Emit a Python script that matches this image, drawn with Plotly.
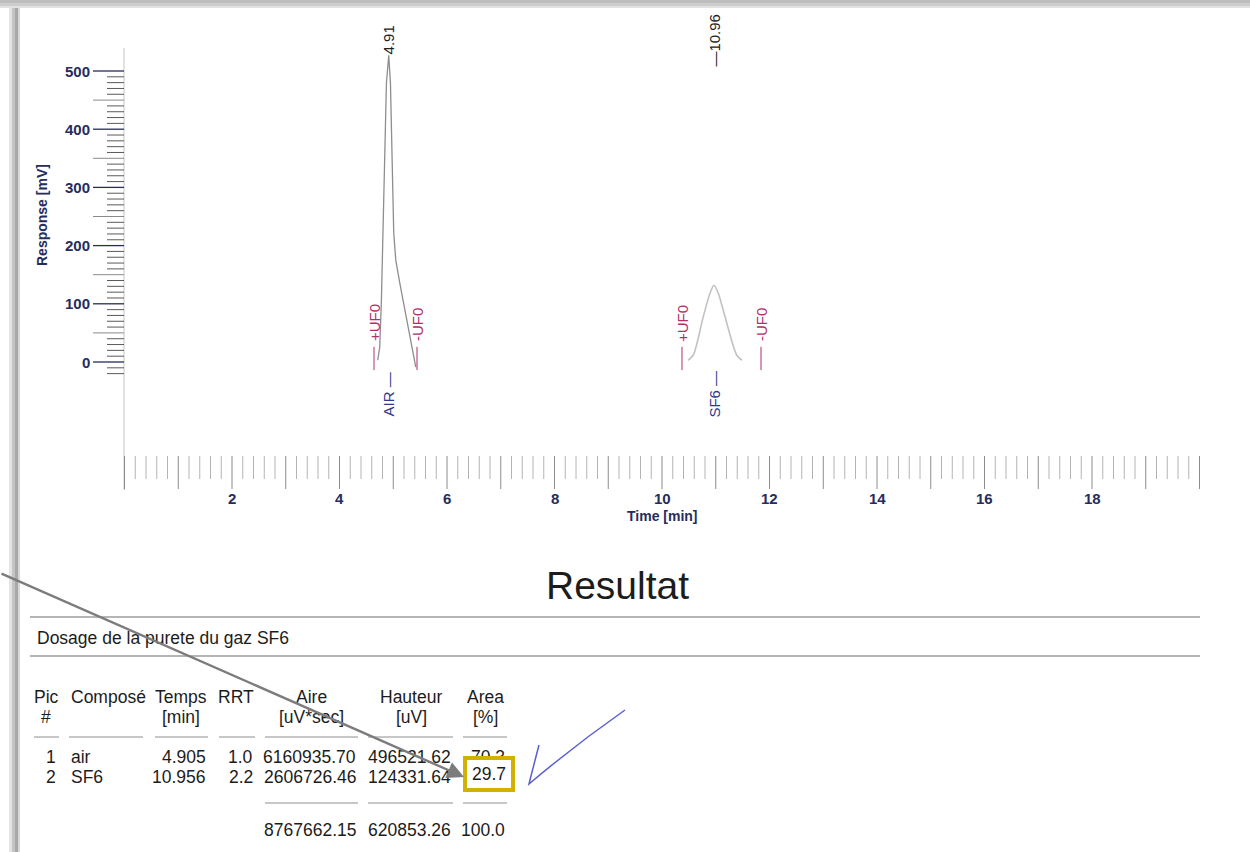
import plotly.graph_objects as go

# ---------------- data ----------------
# chromatogram trace around the two peaks (time in min, response in mV)
air_time = [4.711, 4.749, 4.780, 4.799, 4.804, 4.873, 4.916, 4.948, 5.009, 5.047, 5.121, 5.246, 5.339, 5.419]
air_resp = [3, 26, 107, 175, 222, 479, 527, 479, 222, 175, 136, 77, 33, -9]
sf6_time = [10.484, 10.582, 10.768, 10.893, 10.967, 11.047, 11.172, 11.390, 11.488]
sf6_resp = [3, 12, 78, 118, 132, 118, 78, 12, 3]

peak_names = ["AIR", "SF6"]
peak_rt = [4.91, 10.96]
peak_rt_labels = ["4.91", "\u201410.96"]
uf0_start = [4.642, 10.372]
uf0_end = [5.442, 11.842]

y_tick_labels = [0, 100, 200, 300, 400, 500]
y_minor_ticks = list(range(-20, 501, 10))
x_tick_labels = [2, 4, 6, 8, 10, 12, 14, 16, 18]
x_major_ticks = list(range(0, 21))
x_minor_ticks = [i / 5 for i in range(0, 101) if i % 5 != 0]

# result table
pic = [1, 2]
compose = ["air", "SF6"]
temps = [4.905, 10.956]
rrt = [1.0, 2.2]
aire = [6160935.70, 2606726.46]
hauteur = [496521.62, 124331.64]
area_pct = [70.3, 29.7]
aire_total = 8767662.15
hauteur_total = 620853.26
area_total = 100.0

# ---------------- page geometry ----------------
W, H = 1250, 852
X0_PX, PX_PER_MIN = 124.5, 53.75
Y0_PX, PX_PER_MV = 362.0, 0.582


def t_of(px):
    return (px - X0_PX) / PX_PER_MIN


def r_of(py):
    return (Y0_PX - py) / PX_PER_MV


def pxp(x):
    return x / W


def pyp(y):
    return 1 - y / H


FONT = "Liberation Sans, Arial, sans-serif"
NAVY = "#262c5c"
NAVY2 = "#2e3a8a"
UFC = "#b0306a"
TS = 17.5

fig = go.Figure()


def seg_trace(xs_pairs, ys_pairs, color, width):
    xs, ys = [], []
    for (xa, xb), (ya, yb) in zip(xs_pairs, ys_pairs):
        xs += [xa, xb, None]
        ys += [ya, yb, None]
    fig.add_trace(go.Scatter(x=xs, y=ys, mode="lines", line=dict(color=color, width=width),
                             hoverinfo="skip", showlegend=False))


# y axis line
seg_trace([(t_of(124), t_of(124))], [(r_of(48), r_of(490))], "#c4c4c4", 1)
# y ticks
minor = [v for v in y_minor_ticks if v % 50 != 0]
mid = [v for v in y_minor_ticks if v % 50 == 0 and v % 100 != 0]
seg_trace([(t_of(107), t_of(124))] * len(minor), [(v, v) for v in minor], "#5a5a5a", 1)
seg_trace([(t_of(93), t_of(124))] * len(mid), [(v, v) for v in mid], "#8a8a8a", 1)
seg_trace([(t_of(93), t_of(124))] * len(y_tick_labels), [(v, v) for v in y_tick_labels], NAVY, 1.3)
# x ticks
seg_trace([(v, v) for v in x_minor_ticks], [(r_of(456), r_of(479))] * len(x_minor_ticks), "#b4b4b4", 1)
seg_trace([(v, v) for v in x_major_ticks], [(r_of(456), r_of(489))] * len(x_major_ticks), "#8c8c8c", 1)

# chromatogram
fig.add_trace(go.Scatter(x=air_time, y=air_resp, mode="lines",
                         line=dict(color="#8e8e8e", width=1.3), hoverinfo="skip", showlegend=False))
fig.add_trace(go.Scatter(x=sf6_time, y=sf6_resp, mode="lines",
                         line=dict(color="#c2c2c2", width=1.6, shape="spline", smoothing=0.8),
                         hoverinfo="skip", showlegend=False))
# integration markers
seg_trace([(t, t) for t in uf0_start + uf0_end], [(-14, 26)] * 4, UFC, 1)

ann = []
# axis labels
for v in y_tick_labels:
    ann.append(dict(x=t_of(92), y=v, xref="x", yref="y", text=f"<b>{v}</b>", showarrow=False,
                    xanchor="right", yanchor="middle", font=dict(family=FONT, size=15, color=NAVY)))
for v in x_tick_labels:
    ann.append(dict(x=v, y=r_of(498), xref="x", yref="y", text=f"<b>{v}</b>", showarrow=False,
                    xanchor="center", yanchor="middle", font=dict(family=FONT, size=15, color=NAVY)))
ann.append(dict(x=t_of(42), y=r_of(215), xref="x", yref="y", text="<b>Response [mV]</b>", showarrow=False,
                textangle=-90, font=dict(family=FONT, size=14, color=NAVY)))
ann.append(dict(x=t_of(662), y=r_of(516), xref="x", yref="y", text="<b>Time [min]</b>", showarrow=False,
                font=dict(family=FONT, size=14, color=NAVY)))
# peak annotations
for name, rt, lab, ts, te in zip(peak_names, peak_rt, peak_rt_labels, uf0_start, uf0_end):
    ann.append(dict(x=rt, y=r_of(40), xref="x", yref="y", text=lab, showarrow=False, textangle=-90,
                    font=dict(family=FONT, size=15, color="#222222")))
    ann.append(dict(x=rt, y=r_of(394), xref="x", yref="y", text=name + " \u2014", showarrow=False,
                    textangle=-90, font=dict(family=FONT, size=15, color=NAVY2)))
    ann.append(dict(x=ts, y=r_of(323), xref="x", yref="y", text="+UF0", showarrow=False, textangle=-90,
                    font=dict(family=FONT, size=15, color=UFC)))
    ann.append(dict(x=te, y=r_of(325), xref="x", yref="y", text="-UF0", showarrow=False, textangle=-90,
                    font=dict(family=FONT, size=15, color=UFC)))


def ptxt(text, x, y, anchor, size=TS, color="#1c1c1c"):
    ann.append(dict(x=pxp(x), y=pyp(y), xref="paper", yref="paper", text=text, showarrow=False,
                    xanchor=anchor, yanchor="middle", font=dict(family=FONT, size=size, color=color)))


ptxt("Resultat", 617, 585, "center", size=39)
ptxt("Dosage de la purete du gaz SF6", 35, 638, "left")

# table header
headers = [("Pic", "#", 46.5), ("Composé", "", 69), ("Temps", "[min]", 181), ("RRT", "", 236),
           ("Aire", "[uV*sec]", 311), ("Hauteur", "[uV]", 411), ("Area", "[%]", 485)]
for h1, h2, cx in headers:
    anc = "left" if h1 == "Composé" else "center"
    ptxt(h1, cx, 697, anc)
    if h2:
        ptxt(h2, cx, 717, anc)

row_y = [757, 777]
for i in range(len(pic)):
    y = row_y[i]
    ptxt(str(pic[i]), 58, y, "right")
    ptxt(compose[i], 69, y, "left")
    ptxt(f"{temps[i]:.3f}", 208, y, "right")
    ptxt(f"{rrt[i]:.1f}", 255, y, "right")
    ptxt(f"{aire[i]:.2f}", 358, y, "right")
    ptxt(f"{hauteur[i]:.2f}", 453, y, "right")
    if i == 0:
        ptxt(f"{area_pct[i]:.1f}", 507, y, "right")
ptxt(f"{aire_total:.2f}", 358, 830, "right")
ptxt(f"{hauteur_total:.2f}", 453, 830, "right")
ptxt(f"{area_total:.1f}", 507, 830, "right")

# highlighted value with yellow frame
ann.append(dict(x=pxp(488.5), y=pyp(774), xref="paper", yref="paper", text=f"{area_pct[1]:.1f}",
                showarrow=False, xanchor="center", yanchor="middle", width=42, height=26,
                bgcolor="white", bordercolor="#d2b200", borderwidth=4, borderpad=1,
                font=dict(family=FONT, size=TS, color="#1c1c1c")))
# pointer arrow
ann.append(dict(x=pxp(464), y=pyp(777), xref="paper", yref="paper", text="", showarrow=True,
                ax=-480, ay=-204, axref="pixel", ayref="pixel", arrowhead=2, arrowsize=1.4,
                arrowwidth=2.4, arrowcolor="#7c7c7c"))

shapes = []
# page shadow (top and left edges of the scanned sheet)
for (y0, y1, c) in [(0, 3, "#bdbdbd"), (3, 6, "#cdcdcd"), (6, 8, "#e2e2e2")]:
    shapes.append(dict(type="rect", xref="paper", yref="paper", x0=0, x1=1, y0=pyp(y1), y1=pyp(y0),
                       fillcolor=c, line=dict(width=0), layer="below"))
for (x0, x1, c) in [(9, 12, "#e4e4e4"), (12, 15, "#c4c4c4"), (15, 18, "#a8a8a8"), (18, 20, "#d8d8d8")]:
    shapes.append(dict(type="rect", xref="paper", yref="paper", x0=pxp(x0), x1=pxp(x1), y0=0, y1=pyp(8),
                       fillcolor=c, line=dict(width=0), layer="below"))
# table rules
for yy in (617, 656):
    shapes.append(dict(type="line", xref="paper", yref="paper", x0=pxp(30), x1=pxp(1200), y0=pyp(yy), y1=pyp(yy),
                       line=dict(color="#9c9c9c", width=1.5)))
sep1 = [(34, 59), (69, 143), (155, 208), (219, 255), (265, 358), (368, 453), (463, 507)]
for a, b in sep1:
    shapes.append(dict(type="line", xref="paper", yref="paper", x0=pxp(a), x1=pxp(b), y0=pyp(737), y1=pyp(737),
                       line=dict(color="#b4b4b4", width=1.5)))
for a, b in sep1[4:]:
    shapes.append(dict(type="line", xref="paper", yref="paper", x0=pxp(a), x1=pxp(b), y0=pyp(803), y1=pyp(803),
                       line=dict(color="#b4b4b4", width=1.5)))
# hand-drawn check mark
ck = [(539, 745), (533, 768), (529, 784), (575, 745), (625, 710)]
path = "M {} {} Q {} {} {} {} Q {} {} {} {}".format(
    pxp(ck[0][0]), pyp(ck[0][1]), pxp(ck[1][0]), pyp(ck[1][1]), pxp(ck[2][0]), pyp(ck[2][1]),
    pxp(ck[3][0]), pyp(ck[3][1]), pxp(ck[4][0]), pyp(ck[4][1]))
shapes.append(dict(type="path", xref="paper", yref="paper", path=path, line=dict(color="#5a5ed0", width=1.5)))

fig.update_layout(
    width=W, height=H, margin=dict(l=0, r=0, t=0, b=0),
    paper_bgcolor="white", plot_bgcolor="rgba(0,0,0,0)", showlegend=False,
    xaxis=dict(range=[t_of(0), t_of(W)], visible=False, fixedrange=True, domain=[0, 1]),
    yaxis=dict(range=[r_of(H), r_of(0)], visible=False, fixedrange=True, domain=[0, 1]),
    annotations=ann, shapes=shapes,
)

fig.write_html("out.html", config={"displayModeBar": False},
               post_script="document.body.style.margin='0';")
